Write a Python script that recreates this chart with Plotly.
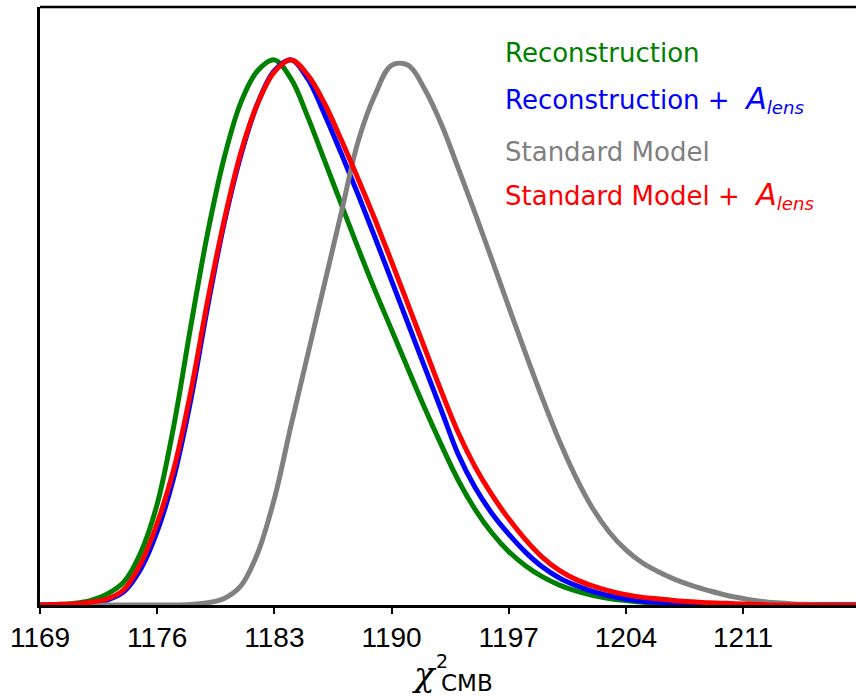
import plotly.graph_objects as go

# ---- data (normalised densities, peak = 1) ----
chi2 = list(range(1169, 1219))  # 1169 ... 1218

y_green = [0, 0.001, 0.003, 0.008, 0.02, 0.042, 0.095, 0.185, 0.33, 0.51,
           0.68, 0.82, 0.922, 0.98, 1.0, 0.965, 0.895, 0.815, 0.735, 0.655,
           0.578, 0.505, 0.432, 0.36, 0.292, 0.228, 0.175, 0.132, 0.098, 0.072,
           0.052, 0.037, 0.026, 0.018, 0.012, 0.008, 0.005, 0.003, 0.002, 0.001,
           0, 0, 0, 0, 0, 0, 0, 0, 0, 0]

y_blue = [0, 0, 0.001, 0.004, 0.009, 0.024, 0.065, 0.135, 0.235, 0.375,
          0.545, 0.7, 0.825, 0.92, 0.98, 1.0, 0.965, 0.9, 0.828, 0.753,
          0.675, 0.595, 0.515, 0.435, 0.355, 0.275, 0.215, 0.168, 0.13, 0.097,
          0.07, 0.05, 0.036, 0.025, 0.017, 0.011, 0.007, 0.005, 0.003, 0.002,
          0.001, 0, 0, 0, 0, 0, 0, 0, 0, 0]

y_gray = [0, 0, 0, 0, 0, 0, 0, 0, 0, 0.001,
          0.004, 0.012, 0.035, 0.095, 0.195, 0.33, 0.46, 0.59, 0.72, 0.85,
          0.935, 0.99, 0.99, 0.945, 0.88, 0.80, 0.718, 0.633, 0.547, 0.462,
          0.38, 0.303, 0.235, 0.178, 0.134, 0.101, 0.077, 0.06, 0.046, 0.035,
          0.026, 0.018, 0.012, 0.007, 0.004, 0.002, 0.001, 0, 0, 0]

y_red = [0, 0.001, 0.002, 0.005, 0.011, 0.028, 0.075, 0.15, 0.25, 0.39,
         0.556, 0.705, 0.83, 0.92, 0.978, 1.0, 0.972, 0.92, 0.853, 0.782,
         0.708, 0.63, 0.55, 0.47, 0.39, 0.315, 0.253, 0.202, 0.158, 0.12,
         0.088, 0.064, 0.047, 0.035, 0.026, 0.019, 0.014, 0.011, 0.008, 0.006,
         0.004, 0.003, 0.002, 0.001, 0, 0, 0, 0, 0, 0]

tick_vals = [1169, 1176, 1183, 1190, 1197, 1204, 1211]
tick_text = ["1169", "1176", "1183", "1190", "1197", "1204", "1211"]

NB = "\u00a0"
ALENS = "<i><span style='font-size:30px'>A</span></i><sub><i>lens</i></sub>"
labels = ["Reconstruction",
          "Reconstruction" + NB + "+" + NB + NB + ALENS,
          "Standard Model",
          "Standard Model" + NB + "+" + NB + NB + ALENS]
colors = ["#008000", "#0000ff", "#808080", "#ff0000"]

series = [y_green, y_blue, y_gray, y_red]

fig = go.Figure()
for ys, c, name in zip(series, colors, labels):
    fig.add_trace(go.Scatter(x=chi2, y=ys, mode="lines", name=name,
                             line=dict(color=c, width=5, shape="spline", smoothing=1.0),
                             showlegend=False, hoverinfo="skip"))

W, H = 856, 697
L, R, T, B = 40, 0, 7, 92
pw, ph = W - L - R, H - T - B

def px(xp):
    return (xp - L) / pw

def py(yp):
    return (H - B - yp) / ph

# legend drawn as coloured text
leg_y = [53, 99, 152, 195]
for lab, c, yy in zip(labels, colors, leg_y):
    fig.add_annotation(text=lab, xref="paper", yref="paper", x=px(503), y=py(yy),
                       xanchor="left", yanchor="middle", showarrow=False,
                       font=dict(family="DejaVu Sans", size=26, color=c))

# x-axis label chi^2_CMB (stacked sup/sub)
fig.add_annotation(text="<i>χ</i>", xref="paper", yref="paper", x=px(410), y=py(674),
                   xanchor="left", yanchor="middle", showarrow=False,
                   font=dict(family="DejaVu Serif", size=34, color="black"))
fig.add_annotation(text="2", xref="paper", yref="paper", x=px(434), y=py(661),
                   xanchor="left", yanchor="middle", showarrow=False,
                   font=dict(family="DejaVu Sans", size=19, color="black"))
fig.add_annotation(text="CMB", xref="paper", yref="paper", x=px(439), y=py(683),
                   xanchor="left", yanchor="middle", showarrow=False,
                   font=dict(family="DejaVu Sans", size=23, color="black"))

# top spine
fig.add_shape(type="line", xref="paper", yref="paper", x0=0, x1=1, y0=1, y1=1,
              line=dict(color="black", width=2.5))

fig.update_layout(
    width=W, height=H,
    margin=dict(l=L, r=R, t=T, b=B, pad=0),
    plot_bgcolor="white", paper_bgcolor="white",
    xaxis=dict(range=[1169, 1169 + pw / 16.74], tickmode="array", tickvals=tick_vals,
               ticktext=tick_text, ticks="outside", ticklen=6, tickwidth=1.5, tickcolor="black",
               showline=True, linecolor="black", linewidth=2.5, showgrid=False, zeroline=False,
               tickfont=dict(family="Liberation Sans", size=28, color="black")),
    yaxis=dict(range=[0, 1.097], showticklabels=False, ticks="", showline=True,
               linecolor="black", linewidth=2.5, showgrid=False, zeroline=False),
)

fig.write_html("out.html")
